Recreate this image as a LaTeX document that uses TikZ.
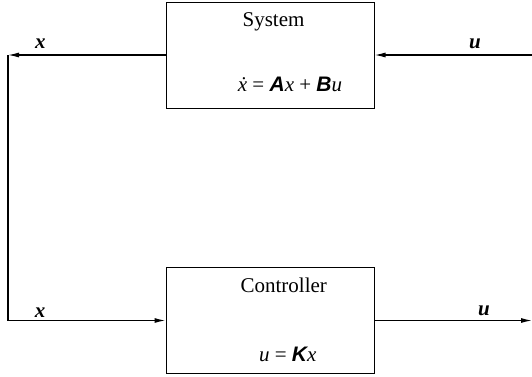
\documentclass[tikz,border=0pt]{standalone}
\usepackage{fontspec}
\setmainfont{Liberation Serif}
\newfontfamily\helv{Liberation Sans}
\usetikzlibrary{positioning}
\usetikzlibrary{arrows.meta}
\newcommand{\bvec}[1]{{\helv\bfseries\itshape #1}}
\newcommand{\sig}[1]{\textbf{\textit{#1}}}
\begin{document}
\begin{tikzpicture}[>={Latex[length=11pt,width=5pt]},x=1pt,y=-1pt,font=\fontsize{21}{24}\selectfont]
		\useasboundingbox (0,0) rectangle (532,376);
		\tikzset{block/.style={draw,line width=1pt,minimum width=208pt,minimum height=106pt,inner sep=0pt},
			txt/.style={anchor=base,inner sep=0pt}}
		\node[block] (sys) at (270,55) {};
		\node[block] (ctrl) at (270,320.5) {};
		\node[txt] (systxt) at (273.5,26.7) {System};
		\node[txt] (syseq) at (290,91.7) {\textit{\.x} = \bvec{A}\textit{x} + \bvec{B}\textit{u}};
		\node[txt] (ctrltxt) at (283.8,292.7) {Controller};
		\node[txt] (ctrleq) at (287.7,361.5) {\textit{u} = \bvec{K}\textit{x}};
		\coordinate (tl) at (8,55);
		\coordinate (bl) at (8,320.5);
		\coordinate (tr) at (532,55);
		\coordinate (br) at (532,320.5);
		\draw[line width=1.2pt,->] (sys.west)--(tl);
		\draw[line width=1.2pt,->] (tl)--(bl)--(ctrl.west);
		\draw[line width=1.2pt,->] (tr)--(sys.east);
		\draw[line width=1.2pt,->] (ctrl.east)--(br);
		\node[txt] (xtop) at (40.3,48.3) {\sig{x}};
		\node[txt] (utop) at (475,48.3) {\sig{u}};
		\node[txt] (xbot) at (40,317) {\sig{x}};
		\node[txt] (ubot) at (484,315) {\sig{u}};
	\end{tikzpicture}
\end{document}
